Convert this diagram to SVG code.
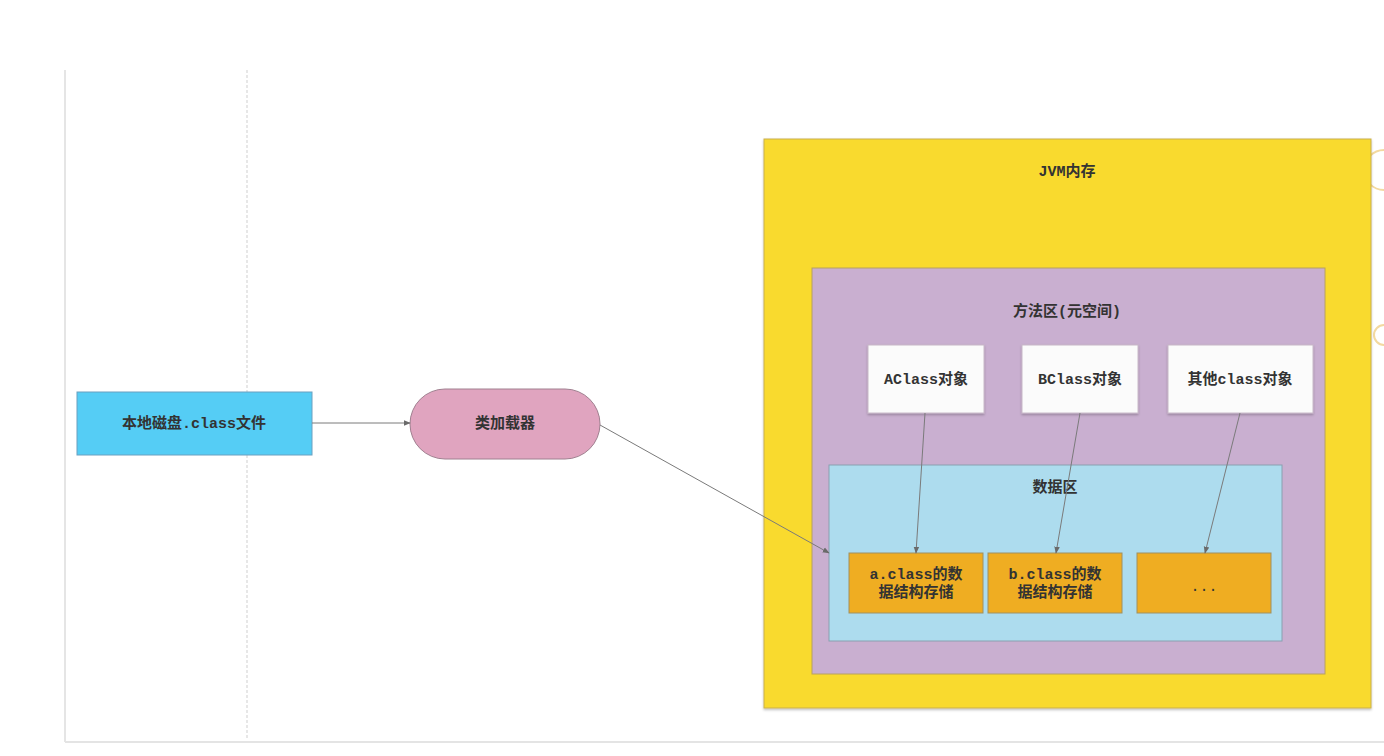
<svg xmlns="http://www.w3.org/2000/svg" width="1384" height="756" viewBox="0 0 1384 756">
<style>
  text { font-family: "Liberation Mono", "Noto Sans CJK SC", monospace; font-size: 15px; fill: #333; text-anchor: middle; dominant-baseline: central; font-weight: bold; }
  .conn { stroke: #7a7a7a; stroke-width: 1; fill: none; marker-end: url(#arr); }
</style>
<defs>
  <marker id="arr" viewBox="0 0 10 10" refX="9" refY="5" markerWidth="7" markerHeight="7" orient="auto">
    <path d="M0,1 L10,5 L0,9 z" fill="#6a6a6a"/>
  </marker>
  <filter id="sh" x="-5%" y="-5%" width="110%" height="115%">
    <feDropShadow dx="0" dy="1.5" stdDeviation="1" flood-color="#000" flood-opacity="0.25"/>
  </filter>
</defs>
<rect width="1384" height="756" fill="#fff"/>
<g id="lanes">
  <line x1="65" y1="70" x2="65" y2="742" stroke="#dcdcdc" stroke-width="1.5"/>
  <line x1="247" y1="70" x2="247" y2="740" stroke="#cfcfcf" stroke-width="1" stroke-dasharray="3,2"/>
  <line x1="65" y1="742" x2="1384" y2="742" stroke="#e4e4e4" stroke-width="2"/>
  <path d="M1384,150 A20,20 0 0 0 1384,190" fill="none" stroke="#f3d9a0" stroke-width="2"/>
  <path d="M1384,325 A10,10 0 0 0 1384,345" fill="none" stroke="#f3d9a0" stroke-width="2"/>
</g>
<g id="jvm">
  <rect x="764" y="139" width="607" height="569" fill="#F9DA2D" stroke="#c9b050" filter="url(#sh)"/>
  <text x="1067" y="172">JVM内存</text>
</g>
<g id="method-area">
  <rect x="812" y="268" width="513" height="406" fill="#C9AFD0" stroke="#b8a060"/>
  <text x="1067" y="312">方法区(元空间)</text>
</g>
<g id="aclass">
  <rect x="868" y="345" width="116" height="68" fill="#fbfbfb" stroke="#c8b8c8" filter="url(#sh)"/>
  <text x="926" y="380">AClass对象</text>
</g>
<g id="bclass">
  <rect x="1022" y="345" width="116" height="68" fill="#fbfbfb" stroke="#c8b8c8" filter="url(#sh)"/>
  <text x="1080" y="380">BClass对象</text>
</g>
<g id="otherclass">
  <rect x="1168" y="345" width="145" height="68" fill="#fbfbfb" stroke="#c8b8c8" filter="url(#sh)"/>
  <text x="1240" y="380">其他class对象</text>
</g>
<g id="data-area">
  <rect x="829" y="465" width="453" height="176" fill="#ADDCEE" stroke="#8aa0b0"/>
  <text x="1055" y="488">数据区</text>
</g>
<g id="a-data">
  <rect x="849" y="553" width="134" height="60" fill="#EFAD22" stroke="#a09060"/>
  <text x="916" y="575">a.class的数</text>
  <text x="916" y="593">据结构存储</text>
</g>
<g id="b-data">
  <rect x="988" y="553" width="134" height="60" fill="#EFAD22" stroke="#a09060"/>
  <text x="1055" y="575">b.class的数</text>
  <text x="1055" y="593">据结构存储</text>
</g>
<g id="etc-data">
  <rect x="1137" y="553" width="134" height="60" fill="#EFAD22" stroke="#a09060"/>
  <text x="1204" y="587" style="font-weight:normal">...</text>
</g>
<g id="disk">
  <rect x="77" y="392" width="235" height="63" fill="#55CDF5" stroke="#6aa0c0"/>
  <text x="194" y="424">本地磁盘.class文件</text>
</g>
<g id="loader">
  <rect x="410" y="389" width="190" height="70" rx="35" ry="35" fill="#E0A4BF" stroke="#a08090"/>
  <text x="505" y="424">类加载器</text>
</g>
<g id="connectors">
  <line class="conn" x1="312" y1="423" x2="410" y2="423"/>
  <line class="conn" x1="600" y1="425" x2="829" y2="553"/>
  <line class="conn" x1="925" y1="413" x2="916" y2="553"/>
  <line class="conn" x1="1080" y1="413" x2="1056" y2="553"/>
  <line class="conn" x1="1240" y1="413" x2="1205" y2="553"/>
</g>
</svg>
